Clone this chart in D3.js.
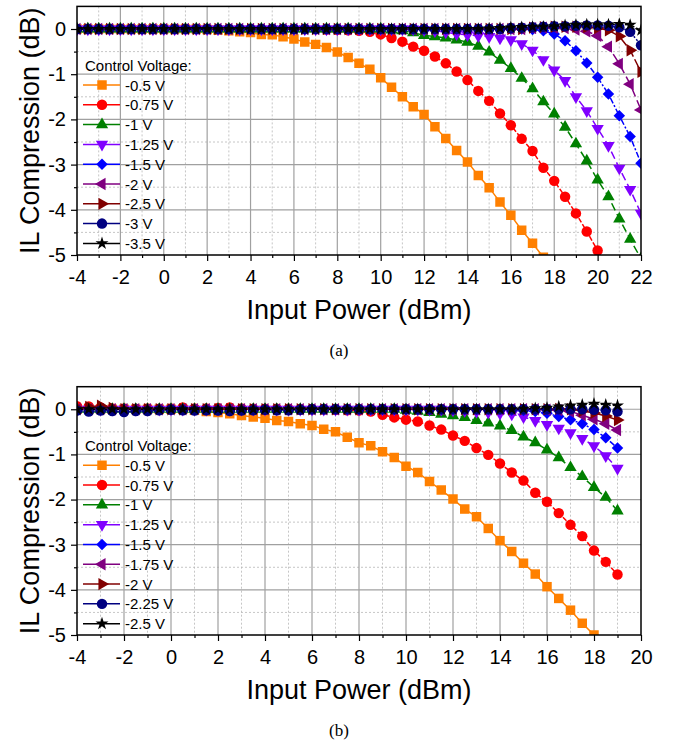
<!DOCTYPE html>
<html>
<head>
<meta charset="utf-8">
<script src="https://cdn.jsdelivr.net/npm/d3@7"></script>
<style>
  body { margin: 0; background: #fff; }
  svg { display: block; font-family: "Liberation Sans", Arial, sans-serif; }
</style>
</head>
<body>
<svg id="chart" width="678" height="748"></svg>
<script>
// Input power (dBm), 0.5 dB steps
const xTop = [-4, -3.5, -3, -2.5, -2, -1.5, -1, -0.5, 0, 0.5, 1, 1.5, 2, 2.5, 3, 3.5, 4, 4.5, 5, 5.5,
  6, 6.5, 7, 7.5, 8, 8.5, 9, 9.5, 10, 10.5, 11, 11.5, 12, 12.5, 13, 13.5, 14, 14.5, 15, 15.5,
  16, 16.5, 17, 17.5, 18, 18.5, 19, 19.5, 20, 20.5, 21, 21.5, 22];
const xBottom = [-4, -3.5, -3, -2.5, -2, -1.5, -1, -0.5, 0, 0.5, 1, 1.5, 2, 2.5, 3, 3.5, 4, 4.5, 5, 5.5,
  6, 6.5, 7, 7.5, 8, 8.5, 9, 9.5, 10, 10.5, 11, 11.5, 12, 12.5, 13, 13.5, 14, 14.5, 15, 15.5,
  16, 16.5, 17, 17.5, 18, 18.5, 19];

const labelsTop = ["-0.5 V", "-0.75 V", "-1 V", "-1.25 V", "-1.5 V", "-2 V", "-2.5 V", "-3 V", "-3.5 V"];
const labelsBottom = ["-0.5 V", "-0.75 V", "-1 V", "-1.25 V", "-1.5 V", "-1.75 V", "-2 V", "-2.25 V", "-2.5 V"];

const xTicksTop = [-4, -2, 0, 2, 4, 6, 8, 10, 12, 14, 16, 18, 20, 22];
const xTicksBottom = [-4, -2, 0, 2, 4, 6, 8, 10, 12, 14, 16, 18, 20];
const yTicks = [0, -1, -2, -3, -4, -5];

// (a) IL compression (dB)
const topV050 = [0, 0, 0, 0, 0, 0, 0, 0, 0, 0, 0, 0,
  -0.01, -0.02, -0.04, -0.06, -0.08, -0.12, -0.13, -0.17, -0.22, -0.29,
  -0.34, -0.41, -0.51, -0.63, -0.76, -0.89, -1.08, -1.29, -1.50, -1.72,
  -1.89, -2.16, -2.42, -2.69, -2.94, -3.24, -3.51, -3.83, -4.12, -4.45,
  -4.74, -5.05, -5.38];
const topV075 = [0, 0, 0, 0, 0, 0, 0, 0, 0, 0, 0, 0, 0, 0, 0, 0, 0, 0, 0, 0, 0, 0, 0,
  -0.01, -0.02, -0.03, -0.04, -0.06, -0.12, -0.20, -0.28, -0.39, -0.48,
  -0.61, -0.76, -0.94, -1.13, -1.37, -1.59, -1.87, -2.13, -2.43, -2.70,
  -3.07, -3.36, -3.71, -4.08, -4.48, -4.90, -5.35];
const topV100 = [0, 0, 0, 0, 0, 0, 0, 0, 0, 0, 0, 0, 0, 0, 0, 0, 0, 0, 0, 0,
  0, 0, 0, 0, 0, 0, 0, 0, 0,
  -0.02, -0.04, -0.08,
  -0.14, -0.17, -0.20, -0.24, -0.29, -0.38, -0.51, -0.69, -0.87, -1.09,
  -1.32, -1.61, -1.88, -2.17, -2.54, -2.92, -3.34, -3.71, -4.20, -4.65,
  -5.08];
const topV125 = [0, 0, 0, 0, 0, 0, 0, 0, 0, 0, 0, 0, 0, 0, 0, 0, 0, 0, 0, 0,
  0, 0, 0, 0, 0, 0, 0, 0, 0, 0, 0, 0,
  -0.02, -0.04, -0.07, -0.11, -0.13, -0.15, -0.17, -0.20, -0.24, -0.33,
  -0.47, -0.68, -0.91, -1.14, -1.50, -1.81, -2.20, -2.58, -3.08, -3.55,
  -4.08];
const topV150 = [0, 0, 0, 0, 0, 0, 0, 0, 0, 0, 0, 0, 0, 0, 0, 0, 0, 0, 0, 0,
  0, 0, 0, 0, 0, 0, 0, 0, 0, 0, 0, 0, 0, 0, 0, 0, 0, 0, 0, 0, 0, 0,
  -0.01, -0.04, -0.11, -0.26, -0.48, -0.75, -1.07, -1.44, -1.92, -2.38, -2.97];
const topV200 = [0, 0, 0, 0, 0, 0, 0, 0, 0, 0, 0, 0, 0, 0, 0, 0, 0, 0, 0, 0,
  0, 0, 0, 0, 0, 0, 0, 0, 0, 0, 0, 0, 0, 0, 0, 0, 0, 0, 0, 0, 0, 0,
  0.02, 0.03, 0.03, 0.02, -0.01, -0.05, -0.15, -0.39, -0.77, -1.22, -1.79];
const topV250 = [0, 0, 0, 0, 0, 0, 0, 0, 0, 0, 0, 0, 0, 0, 0, 0, 0, 0, 0, 0,
  0, 0, 0, 0, 0, 0, 0, 0, 0, 0, 0, 0, 0, 0, 0, 0, 0, 0, 0, 0, 0, 0,
  0.03, 0.04, 0.05, 0.05, 0.05, 0.04, 0.02, -0.03, -0.16, -0.47, -0.95];
const topV300 = [0, 0, 0, 0, 0, 0, 0, 0, 0, 0, 0, 0, 0, 0, 0, 0, 0, 0, 0, 0,
  0, 0, 0, 0, 0, 0, 0, 0, 0, 0, 0, 0, 0, 0, 0, 0, 0, 0, 0, 0,
  0.02, 0.03, 0.04, 0.05, 0.06, 0.06, 0.07, 0.08, 0.08, 0.07, 0.04, -0.06, -0.36];
const topV350 = [0, 0, 0, 0, 0, 0, 0, 0, 0, 0, 0, 0, 0, 0, 0, 0, 0, 0, 0, 0,
  0, 0, 0, 0, 0, 0, 0, 0, 0, 0, 0, 0, 0, 0, 0, 0, 0, 0,
  0.01, 0.02, 0.03, 0.04, 0.05, 0.05, 0.06, 0.08, 0.09, 0.10, 0.10, 0.10, 0.11, 0.09, -0.03];

// (b) IL compression (dB)
const botV050 = [0, 0, 0, 0, 0, 0, 0, 0, 0, 0,
  -0.02, -0.05, -0.07, -0.10, -0.14, -0.17, -0.20, -0.25, -0.27, -0.32,
  -0.36, -0.44, -0.50, -0.62, -0.74, -0.81, -0.94, -1.07, -1.26, -1.40,
  -1.60, -1.79, -1.99, -2.21, -2.38, -2.64, -2.91, -3.15, -3.41, -3.65,
  -3.93, -4.19, -4.45, -4.74, -5.00, -5.30];
const botV075 = [0.07, 0.06, 0.04, 0.02, 0.02, 0.01, 0.02, 0.01, 0.02, 0.04,
  0.02, 0.02, 0.03, 0.04, 0.02, 0.01, 0.01, 0.01, 0.01, 0,
  0, 0, -0.01, -0.02, -0.03, -0.05, -0.12, -0.18, -0.23, -0.27,
  -0.36, -0.45, -0.58, -0.70, -0.86, -1.01, -1.20, -1.40, -1.58, -1.85,
  -2.05, -2.30, -2.56, -2.81, -3.13, -3.38, -3.66];
const botV100 = [0, 0, 0, 0, 0, 0, 0, 0, 0, 0, 0, 0, 0, 0, 0, 0, 0, 0, 0, 0,
  0, 0, 0, 0, 0, 0, 0, 0,
  -0.02, -0.04, -0.07, -0.11,
  -0.14, -0.18, -0.25, -0.30, -0.37, -0.47, -0.61, -0.74, -0.90, -1.07,
  -1.29, -1.49, -1.73, -1.95, -2.25];
const botV125 = [0, 0, 0, 0, 0, 0, 0, 0, 0, 0, 0, 0, 0, 0, 0, 0, 0, 0, 0, 0,
  0, 0, 0, 0, 0, 0, 0, 0, 0, 0, 0, 0,
  -0.02, -0.03, -0.05, -0.07, -0.09, -0.11, -0.17, -0.25, -0.34, -0.42,
  -0.52, -0.65, -0.81, -1.03, -1.31];
const botV150 = [0, 0, 0, 0, 0, 0, 0, 0, 0, 0, 0, 0, 0, 0, 0, 0, 0, 0, 0, 0,
  0, 0, 0, 0, 0, 0, 0, 0, 0, 0, 0, 0, 0, 0, 0, 0, 0,
  -0.02, -0.03, -0.05, -0.09, -0.16,
  -0.23, -0.32, -0.45, -0.63, -0.86];
const botV175 = [0, 0, 0, 0, 0, 0, 0, 0, 0, 0, 0, 0, 0, 0, 0, 0, 0, 0, 0, 0,
  0, 0, 0, 0, 0, 0, 0, 0, 0, 0, 0, 0, 0, 0, 0, 0, 0, 0, 0, 0,
  -0.01, -0.02,
  -0.05, -0.13, -0.22, -0.32, -0.46];
const botV200 = [0.03, 0.05, 0.08, 0.03, 0, 0, 0, 0, 0, 0, 0, 0, 0, 0, 0, 0, 0, 0, 0, 0,
  0, 0, 0, 0, 0, 0, 0, 0, 0, 0, 0, 0, 0, 0, 0, 0, 0, 0, 0, 0, 0,
  0.01,
  0, -0.04, -0.08, -0.15, -0.24];
const botV225 = [-0.03, -0.05, -0.03, -0.04, -0.06, -0.04, -0.04, -0.02, -0.01, -0.02,
  -0.03, -0.02, -0.03, -0.04, -0.03, -0.02, -0.01, -0.02, -0.02, -0.01,
  0, 0, 0, 0, 0, 0, 0, 0, 0, 0, 0, 0, 0, 0, 0, 0, 0, 0, 0, 0, 0, 0, 0, 0,
  -0.01, -0.02, -0.05];
const botV250 = [0, 0, 0, 0, 0, 0, 0, 0, 0, 0, 0, 0, 0, 0, 0, 0, 0, 0, 0, 0,
  0, 0, 0, 0, 0, 0, 0, 0, 0, 0, 0, 0, 0, 0, 0, 0, 0, 0,
  0.01, 0.02, 0.03, 0.06,
  0.08, 0.10, 0.12, 0.10, 0.08];

// line/marker look, one per legend row
const styles = [
  { color: "#FF8000", symbol: "square", dash: null },
  { color: "#FF0000", symbol: "circle", dash: "5,2" },
  { color: "#008000", symbol: "up", dash: "8,4" },
  { color: "#8000FF", symbol: "down", dash: "8,4" },
  { color: "#0000FF", symbol: "diamond", dash: "6,2,2,2" },
  { color: "#800080", symbol: "left", dash: "9,4" },
  { color: "#800000", symbol: "right", dash: "10,3" },
  { color: "#000080", symbol: "circle", dash: "2,2" },
  { color: "#000000", symbol: "star", dash: "2,2" }
];

const charts = [
  {
    id: "a", x: xTop, xDomain: [-4, 22], xTicks: xTicksTop,
    series: [topV050, topV075, topV100, topV125, topV150, topV200, topV250, topV300, topV350],
    labels: labelsTop, top: 6.4, bottom: 255, caption: "(a)"
  },
  {
    id: "b", x: xBottom, xDomain: [-4, 20], xTicks: xTicksBottom,
    series: [botV050, botV075, botV100, botV125, botV150, botV175, botV200, botV225, botV250],
    labels: labelsBottom, top: 386.7, bottom: 635, caption: "(b)"
  }
];

const svg = d3.select("#chart");
const left = 77, right = 641;

function markerPath(sym) {
  if (sym === "square") return { d: d3.symbol(d3.symbolSquare, 90)(), rot: 0 };
  if (sym === "circle") return { d: d3.symbol(d3.symbolCircle, 86)(), rot: 0 };
  if (sym === "diamond") return { d: d3.symbol(d3.symbolSquare, 66)(), rot: 45 };
  if (sym === "star") return { d: d3.symbol(d3.symbolStar, 52)(), rot: 0 };
  const tri = d3.symbol(d3.symbolTriangle, 66)();
  const rot = { up: 0, down: 180, left: -90, right: 90 }[sym];
  return { d: tri, rot: rot };
}

charts.forEach(c => {
  const xScale = d3.scaleLinear().domain(c.xDomain).range([left, right]);
  const yScale = d3.scaleLinear().domain([-5, 0.5]).range([c.bottom, c.top]);
  const g = svg.append("g");

  // grid
  const minorX = d3.range(c.xDomain[0] + 1, c.xDomain[1], 2);
  const majorX = c.xTicks.filter(v => v > c.xDomain[0] && v < c.xDomain[1]);
  const minorY = [-4.5, -3.5, -2.5, -1.5, -0.5];
  const majorY = [-4, -3, -2, -1, 0];

  g.selectAll(".gxm").data(minorX).join("line")
    .attr("x1", d => xScale(d)).attr("x2", d => xScale(d))
    .attr("y1", c.top).attr("y2", c.bottom)
    .attr("stroke", "#b8b8b8").attr("stroke-width", 0.8).attr("stroke-dasharray", "2,2");
  g.selectAll(".gym").data(minorY).join("line")
    .attr("x1", left).attr("x2", right)
    .attr("y1", d => yScale(d)).attr("y2", d => yScale(d))
    .attr("stroke", "#b8b8b8").attr("stroke-width", 0.8).attr("stroke-dasharray", "2,2");
  g.selectAll(".gxM").data(majorX).join("line")
    .attr("x1", d => xScale(d)).attr("x2", d => xScale(d))
    .attr("y1", c.top).attr("y2", c.bottom)
    .attr("stroke", "#a0a0a0").attr("stroke-width", 1.2);
  g.selectAll(".gyM").data(majorY).join("line")
    .attr("x1", left).attr("x2", right)
    .attr("y1", d => yScale(d)).attr("y2", d => yScale(d))
    .attr("stroke", "#a0a0a0").attr("stroke-width", 1.2);

  // clip to plot frame
  svg.append("clipPath").attr("id", "clip-" + c.id)
    .append("rect").attr("x", left).attr("y", c.top)
    .attr("width", right - left).attr("height", c.bottom - c.top);

  const plot = g.append("g").attr("clip-path", `url(#clip-${c.id})`);
  const line = d3.line().x(d => xScale(d[0])).y(d => yScale(d[1]));

  c.series.forEach((vals, i) => {
    const st = styles[i];
    const pts = vals.map((v, j) => [c.x[j], v]);
    plot.append("path").datum(pts)
      .attr("d", line)
      .attr("fill", "none")
      .attr("stroke", st.color)
      .attr("stroke-width", 1.5)
      .attr("stroke-dasharray", st.dash);
    const m = markerPath(st.symbol);
    plot.append("g").selectAll("path").data(pts).join("path")
      .attr("d", m.d)
      .attr("transform", d => `translate(${xScale(d[0])},${yScale(d[1])}) rotate(${m.rot})`)
      .attr("fill", st.color);
  });

  // axes
  const xAxis = d3.axisBottom(xScale).tickValues(c.xTicks).tickSize(6).tickPadding(9)
    .tickFormat(d => String(d));
  const xAxisMinor = d3.axisBottom(xScale).tickValues(minorX).tickSize(3).tickFormat("");
  const yAxis = d3.axisLeft(yScale).tickValues(yTicks).tickSize(6).tickPadding(5)
    .tickFormat(d => String(d));
  const yAxisMinor = d3.axisLeft(yScale).tickValues(minorY).tickSize(3).tickFormat("");

  [xAxis, xAxisMinor].forEach(ax => {
    const a = g.append("g").attr("transform", `translate(0,${c.bottom})`).call(ax);
    a.select(".domain").remove();
    a.selectAll("line").attr("stroke", "#000").attr("stroke-width", 1.2);
    a.selectAll("text").attr("font-size", 20).attr("fill", "#000")
      .attr("font-family", '"Liberation Sans", Arial, sans-serif');
  });
  [yAxis, yAxisMinor].forEach(ax => {
    const a = g.append("g").attr("transform", `translate(${left},0)`).call(ax);
    a.select(".domain").remove();
    a.selectAll("line").attr("stroke", "#000").attr("stroke-width", 1.2);
    a.selectAll("text").attr("font-size", 20).attr("fill", "#000")
      .attr("font-family", '"Liberation Sans", Arial, sans-serif');
  });

  // frame
  g.append("rect").attr("x", left).attr("y", c.top)
    .attr("width", right - left).attr("height", c.bottom - c.top)
    .attr("fill", "none").attr("stroke", "#000").attr("stroke-width", 1.5);

  // titles
  g.append("text")
    .attr("x", (left + right) / 2).attr("y", c.bottom + 64)
    .attr("text-anchor", "middle").attr("font-size", 27)
    .text("Input Power (dBm)");
  g.append("text")
    .attr("transform", `translate(39,${(c.top + c.bottom) / 2}) rotate(-90)`)
    .attr("text-anchor", "middle").attr("font-size", 27)
    .text("IL Compression (dB)");
  g.append("text")
    .attr("x", 339).attr("y", c.bottom + 101)
    .attr("text-anchor", "middle").attr("font-size", 17)
    .attr("font-family", '"Liberation Serif", "Times New Roman", serif')
    .text(c.caption);

  // legend
  const lg = g.append("g").attr("transform", `translate(0,${yScale(0)})`);
  lg.append("text").attr("x", 85).attr("y", 42).attr("font-size", 15)
    .text("Control Voltage:");
  c.labels.forEach((lab, i) => {
    const st = styles[i];
    const yy = 56 + i * 19.8;
    lg.append("line").attr("x1", 83).attr("x2", 120).attr("y1", yy).attr("y2", yy)
      .attr("stroke", st.color).attr("stroke-width", 1.5);
    const m = markerPath(st.symbol);
    lg.append("path").attr("d", m.d)
      .attr("transform", `translate(102,${yy}) rotate(${m.rot})`)
      .attr("fill", st.color);
    lg.append("text").attr("x", 125).attr("y", yy + 5.5).attr("font-size", 15).text(lab);
  });
});
</script>
</body>
</html>
